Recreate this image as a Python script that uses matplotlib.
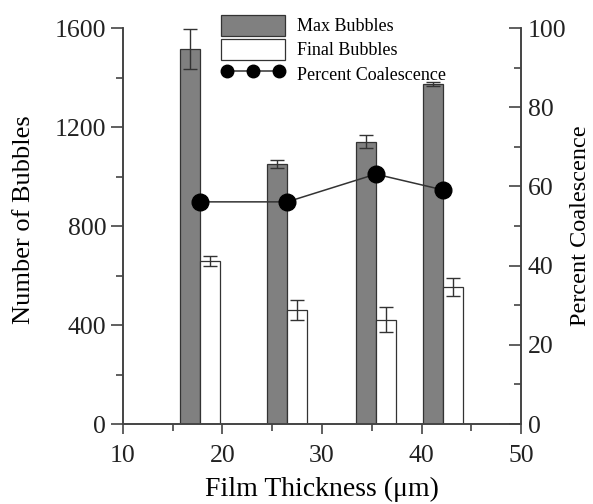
import numpy as np
import matplotlib
matplotlib.use("Agg")
import matplotlib.pyplot as plt
from matplotlib.ticker import MultipleLocator

# data
thickness = [17.7, 26.5, 35.4, 42.2]
max_bubbles = [1515, 1050, 1140, 1375]
max_err = [80, 16, 26, 8]
final_bubbles = [660, 460, 422, 554]
final_err = [20, 40, 52, 36]
pct_coalescence = [56.1, 56.1, 63.1, 59.1]

plt.rcParams.update({
    "font.family": "Liberation Serif",
    "font.size": 18.5,
    "axes.linewidth": 1.2,
    "axes.edgecolor": "#444444",
    "xtick.color": "#444444",
    "ytick.color": "#444444",
    "xtick.labelcolor": "#222222",
    "ytick.labelcolor": "#222222",
})

fig = plt.figure(figsize=(5.93, 5.04), dpi=100)
ax = fig.add_axes([0.2074, 0.1587, 0.6712, 0.7857])
ax2 = ax.twinx()

w = 2.0
x = np.array(thickness)
ax.bar(x - w / 2, max_bubbles, width=w, color="#808080", edgecolor="#333333",
       linewidth=0.9, yerr=max_err, capsize=5,
       error_kw=dict(ecolor="#333333", elinewidth=1, capthick=1),
       label="Max Bubbles", zorder=2)
ax.bar(x + w / 2, final_bubbles, width=w, color="white", edgecolor="#333333",
       linewidth=0.9, yerr=final_err, capsize=5,
       error_kw=dict(ecolor="#333333", elinewidth=1, capthick=1),
       label="Final Bubbles", zorder=2)
ax2.plot(x, pct_coalescence, color="#333333", linewidth=1.1, marker="o",
         markersize=12, markerfacecolor="black", markeredgecolor="black",
         label="Percent Coalescence", zorder=3)

ax.set_xlim(10, 50)
ax.set_ylim(0, 1600)
ax2.set_ylim(0, 100)

ax.xaxis.set_major_locator(MultipleLocator(10))
ax.xaxis.set_minor_locator(MultipleLocator(5))
ax.yaxis.set_major_locator(MultipleLocator(400))
ax.yaxis.set_minor_locator(MultipleLocator(200))
ax2.yaxis.set_major_locator(MultipleLocator(20))
ax2.yaxis.set_minor_locator(MultipleLocator(10))

# left / bottom ticks outward, right ticks inward
ax.tick_params(axis="x", which="major", length=7, width=1.2, direction="out", pad=8)
ax.tick_params(axis="x", which="minor", length=5, width=1.2, direction="out")
ax.tick_params(axis="y", which="major", length=9, width=1.2, direction="out", pad=3)
ax.tick_params(axis="y", which="minor", length=5, width=1.2, direction="out")
ax2.tick_params(axis="y", which="major", length=9, width=1.2, direction="in", pad=5)
ax2.tick_params(axis="y", which="minor", length=5, width=1.2, direction="in")
ax.spines["top"].set_visible(False)
ax2.spines["top"].set_visible(False)

ax.set_xlabel("Film Thickness (\u03bcm)", fontsize=20)
ax.xaxis.set_label_coords(0.5, -0.133)
ax.set_ylabel("Number of Bubbles", fontsize=19)
ax.yaxis.set_label_coords(-0.22, 0.515)
ax2.set_ylabel("Percent Coalescence", fontsize=17.5)
ax2.yaxis.set_label_coords(1.124, 0.5)

h1, l1 = ax.get_legend_handles_labels()
h2, l2 = ax2.get_legend_handles_labels()
fig.legend(h1 + h2, l1 + l2, loc="upper left",
           bbox_to_anchor=(0.358, 0.988), frameon=False, fontsize=13,
           handlelength=3.5, handleheight=1.37, numpoints=3,
           labelspacing=0.2, borderpad=0, handletextpad=0.7,
           markerscale=0.75)

fig.savefig("out.png", dpi=100)
